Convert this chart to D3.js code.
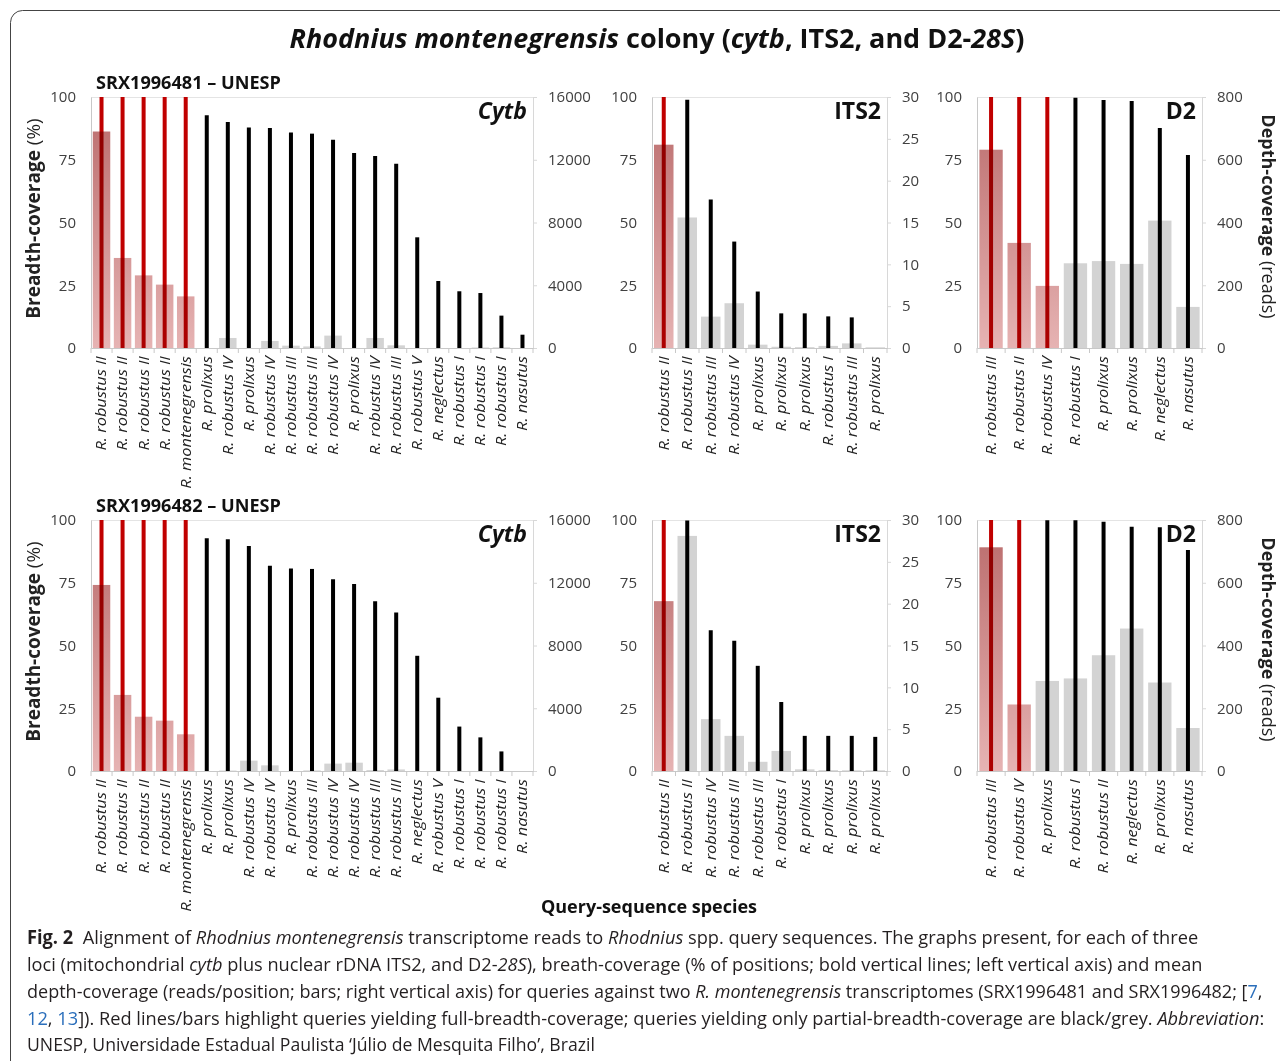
<!DOCTYPE html>
<html>
<head>
<meta charset="utf-8">
<script src="https://cdn.jsdelivr.net/npm/d3@7"></script>
<style>
body { margin: 0; background: #fff; }
svg text { font-family: "Open Sans", sans-serif; }
</style>
</head>
<body>
<div id="chart"></div>
<script>
// ---- data: SRX1996481 (top row) ----
var cytbA_labels = ["R. robustus II","R. robustus II","R. robustus II","R. robustus II","R. montenegrensis",
  "R. prolixus","R. robustus IV","R. prolixus","R. robustus IV","R. robustus III","R. robustus III",
  "R. robustus IV","R. prolixus","R. robustus IV","R. robustus III","R. robustus V","R. neglectus",
  "R. robustus I","R. robustus I","R. robustus I","R. nasutus"];
var cytbA_breadth = [100,100,100,100,100,92.7,90.0,87.8,87.6,85.9,85.4,83.0,77.7,76.5,73.4,44.1,26.7,22.6,21.9,12.9,5.3];
var cytbA_depth = [13800,5740,4630,4040,3290,0,640,0,450,150,100,790,0,640,170,0,0,0,30,40,0];

var its2A_labels = ["R. robustus II","R. robustus II","R. robustus III","R. robustus IV","R. prolixus",
  "R. prolixus","R. prolixus","R. robustus I","R. robustus III","R. prolixus"];
var its2A_breadth = [100,98.9,59.2,42.4,22.5,13.8,13.8,12.6,12.2,0];
var its2A_depth = [24.3,15.6,3.75,5.35,0.4,0.15,0.1,0.25,0.55,0.08];

var d2A_labels = ["R. robustus III","R. robustus II","R. robustus IV","R. robustus I","R. prolixus",
  "R. prolixus","R. neglectus","R. nasutus"];
var d2A_breadth = [100,100,100,99.7,98.8,98.4,87.6,76.9];
var d2A_depth = [632,335,198,270,277,268,406,131];

// ---- data: SRX1996482 (bottom row) ----
var cytbB_labels = ["R. robustus II","R. robustus II","R. robustus II","R. robustus II","R. montenegrensis",
  "R. prolixus","R. prolixus","R. robustus IV","R. robustus IV","R. prolixus","R. robustus III",
  "R. robustus IV","R. robustus IV","R. robustus III","R. robustus III","R. neglectus","R. robustus V",
  "R. robustus I","R. robustus I","R. robustus I","R. nasutus"];
var cytbB_breadth = [100,100,100,100,100,92.7,92.3,89.6,81.8,80.7,80.5,76.4,74.5,67.6,63.1,45.9,29.2,17.7,13.4,7.8,0];
var cytbB_depth = [11860,4850,3460,3210,2340,0,30,660,360,0,40,470,530,60,100,0,0,0,0,0,0];

var its2B_labels = ["R. robustus II","R. robustus II","R. robustus IV","R. robustus III","R. robustus III",
  "R. robustus I","R. prolixus","R. prolixus","R. prolixus","R. prolixus"];
var its2B_breadth = [100,99.8,56.1,51.9,41.9,27.5,14.0,14.0,14.0,13.6];
var its2B_depth = [20.3,28.1,6.2,4.2,1.1,2.4,0.2,0.1,0.08,0.08];

var d2B_labels = ["R. robustus III","R. robustus IV","R. prolixus","R. robustus I","R. robustus II",
  "R. neglectus","R. prolixus","R. nasutus"];
var d2B_breadth = [100,100,99.9,99.9,99.3,97.3,97.1,88.0];
var d2B_depth = [713,212,287,295,369,454,282,137];

// number of queries with full breadth-coverage (drawn red), per panel
var fullA = [5, 1, 3];
var fullB = [5, 1, 2];

var breadthTicks = [0, 25, 50, 75, 100];
var depthTicksCytb = [0, 4000, 8000, 12000, 16000];
var depthTicksIts2 = [0, 5, 10, 15, 20, 25, 30];
var depthTicksD2 = [0, 200, 400, 600, 800];
var runNames = ["SRX1996481 \u2013 UNESP", "SRX1996482 \u2013 UNESP"];

// ---- layout ----
var W = 1280, H = 1061;
var cols = [
  {x0: 91, x1: 533, max: 16000, ticks: depthTicksCytb, name: "Cytb", italic: true},
  {x0: 652, x1: 887, max: 30, ticks: depthTicksIts2, name: "ITS2", italic: false},
  {x0: 977, x1: 1202, max: 800, ticks: depthTicksD2, name: "D2", italic: false}
];
var rows = [{y0: 97, y1: 348}, {y0: 520, y1: 771}];
var panelData = [
  [[cytbA_labels, cytbA_breadth, cytbA_depth], [its2A_labels, its2A_breadth, its2A_depth], [d2A_labels, d2A_breadth, d2A_depth]],
  [[cytbB_labels, cytbB_breadth, cytbB_depth], [its2B_labels, its2B_breadth, its2B_depth], [d2B_labels, d2B_breadth, d2B_depth]]
];
var fulls = [fullA, fullB];

var svg = d3.select("#chart").append("svg")
  .attr("width", W).attr("height", H);

// squeeze a text horizontally to a given width (the fonts here are wider than the original)
function fitWidth(sel, w, x, y) {
  var len = sel.node().getComputedTextLength();
  sel.attr("transform", "translate(" + x + "," + y + ") scale(" + (w / len) + ",1)");
}

// outer frame
svg.append("rect")
  .attr("x", 10.5).attr("y", 10.5).attr("width", 1300).attr("height", 1100)
  .attr("rx", 12).attr("fill", "none").attr("stroke", "#444").attr("stroke-width", 1);

var defs = svg.append("defs");
rows.forEach(function(r, ri) {
  var g = defs.append("linearGradient").attr("id", "redgrad" + ri)
    .attr("gradientUnits", "userSpaceOnUse")
    .attr("x1", 0).attr("x2", 0).attr("y1", r.y0).attr("y2", r.y1);
  g.append("stop").attr("offset", 0).attr("stop-color", "#b96a6a");
  g.append("stop").attr("offset", 1).attr("stop-color", "#e6b3b3");
});

// title
var title = svg.append("text")
  .attr("text-anchor", "middle")
  .style("font-size", "26px").style("font-weight", "bold").attr("fill", "#111");
title.append("tspan").style("font-style", "italic").text("Rhodnius montenegrensis");
title.append("tspan").text(" colony (");
title.append("tspan").style("font-style", "italic").text("cytb");
title.append("tspan").text(", ITS2, and D2-");
title.append("tspan").style("font-style", "italic").text("28S");
title.append("tspan").text(")");
fitWidth(title, 735, 657, 48);

rows.forEach(function(r, ri) {
  // run name
  var rn = svg.append("text")
    .style("font-size", "17px").style("font-weight", "bold").attr("fill", "#111")
    .text(runNames[ri]);
  fitWidth(rn, 185, 96, r.y0 - 8);

  // side labels
  var cy = (r.y0 + r.y1) / 2 - 4;
  var lb = svg.append("text")
    .attr("transform", "translate(40," + cy + ") rotate(-90)")
    .attr("text-anchor", "middle").style("font-size", "19px").attr("fill", "#222");
  lb.append("tspan").style("font-weight", "bold").text("Breadth-coverage");
  lb.append("tspan").text(" (%)");

  var rb = svg.append("text")
    .attr("transform", "translate(1262," + (cy - 2) + ") rotate(90)")
    .attr("text-anchor", "middle").style("font-size", "18px").attr("fill", "#222");
  rb.append("tspan").style("font-weight", "bold").text("Depth-coverage");
  rb.append("tspan").text(" (reads)");

  cols.forEach(function(c, ci) {
    var d = panelData[ri][ci];
    var labels = d[0], breadth = d[1], depth = d[2];
    var nFull = fulls[ri][ci];
    var idx = d3.range(labels.length);

    var x = d3.scaleBand().domain(idx).range([c.x0, c.x1])
      .paddingInner(0.17).paddingOuter(0.085);
    var yB = d3.scaleLinear().domain([0, 100]).range([r.y1, r.y0]);
    var yD = d3.scaleLinear().domain([0, c.max]).range([r.y1, r.y0]);

    var g = svg.append("g");

    // faint top border
    g.append("line").attr("x1", c.x0).attr("x2", c.x1)
      .attr("y1", r.y0 + 0.5).attr("y2", r.y0 + 0.5)
      .attr("stroke", "#e4e4e4");

    // left axis
    var la = g.append("g").attr("transform", "translate(" + c.x0 + ",0)")
      .call(d3.axisLeft(yB).tickValues(breadthTicks).tickSize(0).tickPadding(15));
    la.select(".domain").attr("stroke", "#c8c8c8");
    la.selectAll("text").style("font-size", "15px").attr("fill", "#404040")
      .style("font-family", "'Open Sans', sans-serif");

    // right axis
    var ra = g.append("g").attr("transform", "translate(" + c.x1 + ",0)")
      .call(d3.axisRight(yD).tickValues(c.ticks).tickFormat(d3.format("d"))
        .tickSize(4).tickSizeOuter(0).tickPadding(11));
    ra.select(".domain").attr("stroke", "#d8d8d8");
    ra.selectAll(".tick line").attr("stroke", "#d8d8d8");
    ra.selectAll("text").style("font-size", "15px").attr("fill", "#404040")
      .style("font-family", "'Open Sans', sans-serif");

    // breadth lines (drawn under the bars)
    g.selectAll(".bline").data(idx.filter(function(i) { return breadth[i] > 0; }))
      .enter().append("line")
      .attr("x1", function(i) { return x(i) + x.bandwidth() / 2; })
      .attr("x2", function(i) { return x(i) + x.bandwidth() / 2; })
      .attr("y1", yB(0)).attr("y2", function(i) { return yB(breadth[i]); })
      .attr("stroke", function(i) { return i < nFull ? "#c00000" : "#000"; })
      .attr("stroke-width", 4);

    // depth bars, multiplied over the lines
    g.selectAll(".dbar").data(idx).enter().append("rect")
      .attr("x", function(i) { return x(i); })
      .attr("width", x.bandwidth())
      .attr("y", function(i) { return yD(depth[i]); })
      .attr("height", function(i) { return yD(0) - yD(depth[i]); })
      .attr("fill", function(i) { return i < nFull ? "url(#redgrad" + ri + ")" : "#d3d3d3"; })
      .style("mix-blend-mode", "multiply");

    // x axis
    var xa = g.append("g").attr("transform", "translate(0," + r.y1 + ")")
      .call(d3.axisBottom(x).tickSize(0).tickFormat(function(i) { return labels[i]; }));
    xa.select(".domain").attr("stroke", "#c8c8c8");
    xa.selectAll("text")
      .attr("transform", "rotate(-90) scale(1.17,1)")
      .attr("x", -7).attr("y", 0).attr("dy", "0.35em")
      .style("text-anchor", "end").style("font-style", "italic")
      .style("font-size", "14px").attr("fill", "#222")
      .style("font-family", "'Open Sans', sans-serif");
    g.selectAll(".btick").data(d3.range(labels.length + 1)).enter().append("line")
      .attr("x1", function(i) { return c.x0 + i * x.step(); })
      .attr("x2", function(i) { return c.x0 + i * x.step(); })
      .attr("y1", r.y1).attr("y2", r.y1 + 5)
      .attr("stroke", "#c8c8c8");

    // panel name
    svg.append("text").attr("x", c.x1 - 6).attr("y", r.y0 + 22)
      .attr("text-anchor", "end")
      .style("font-size", "23px").style("font-weight", "bold")
      .style("font-style", c.italic ? "italic" : "normal")
      .attr("fill", "#111").text(c.name);
  });
});

// x-axis title
svg.append("text").attr("x", 649).attr("y", 913).attr("text-anchor", "middle")
  .style("font-size", "18px").style("font-weight", "bold").attr("fill", "#111")
  .text("Query-sequence species");

// caption
var capLines = [
  {y: 944, w: 1172, parts: [["Fig. 2", "b"], ["  Alignment of ", ""], ["Rhodnius montenegrensis", "i"],
    [" transcriptome reads to ", ""], ["Rhodnius", "i"], [" spp. query sequences. The graphs present, for each of three", ""]]},
  {y: 971, w: 1176, parts: [["loci (mitochondrial ", ""], ["cytb", "i"], [" plus nuclear rDNA ITS2, and D2-", ""], ["28S", "i"],
    ["), breath-coverage (% of positions; bold vertical lines; left vertical axis) and mean", ""]]},
  {y: 998, w: 1236, parts: [["depth-coverage (reads/position; bars; right vertical axis) for queries against two ", ""],
    ["R. montenegrensis", "i"], [" transcriptomes (SRX1996481 and SRX1996482; [", ""], ["7", "a"], [",", ""]]},
  {y: 1025, w: 1238, parts: [["12", "a"], [", ", ""], ["13", "a"],
    ["]). Red lines/bars highlight queries yielding full-breadth-coverage; queries yielding only partial-breadth-coverage are black/grey. ", ""],
    ["Abbreviation", "i"], [":", ""]]},
  {y: 1051, w: 568, parts: [["UNESP, Universidade Estadual Paulista \u2018J\u00falio de Mesquita Filho\u2019, Brazil", ""]]}
];
capLines.forEach(function(l) {
  var t = svg.append("text")
    .style("font-size", "19px").attr("fill", "#231f20")
    .attr("xml:space", "preserve");
  l.parts.forEach(function(p) {
    var s = t.append("tspan").text(p[0]);
    if (p[1] === "b") s.style("font-weight", "bold");
    if (p[1] === "i") s.style("font-style", "italic");
    if (p[1] === "a") s.attr("fill", "#2a6ebb");
  });
  fitWidth(t, l.w, 27, l.y);
});
</script>
</body>
</html>
